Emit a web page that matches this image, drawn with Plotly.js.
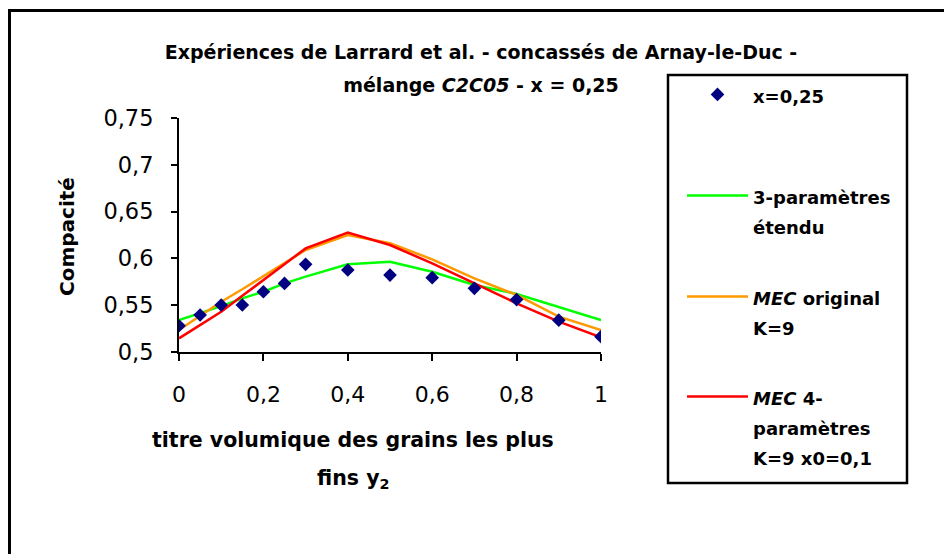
<!DOCTYPE html>
<html>
<head>
<meta charset="utf-8">
<script src="https://cdn.plot.ly/plotly-3.0.1.min.js"></script>
<style>html,body{margin:0;padding:0;background:#fff;}#chart{width:944px;height:554px;}</style>
</head>
<body>
<div id="chart"></div>
<script>
// Data
const xValues = [0, 0.05, 0.1, 0.15, 0.2, 0.25, 0.3, 0.4, 0.5, 0.6, 0.7, 0.8, 0.9, 1];
const experimental = [0.528, 0.5395, 0.5502, 0.5502, 0.5644, 0.5733, 0.5937, 0.5876, 0.5822, 0.5794, 0.568, 0.556, 0.534, 0.5164];
const threeParamExtended = [0.5342, 0.5413, 0.549, 0.5573, 0.5644, 0.5733, 0.5805, 0.5937, 0.5965, 0.5858, 0.5716, 0.562, 0.5477, 0.5342];
const mecOriginal = [0.5235, 0.5386, 0.5537, 0.567, 0.581, 0.595, 0.609, 0.625, 0.6161, 0.599, 0.5787, 0.561, 0.5377, 0.5235];
const mec4Param = [0.5146, 0.529, 0.543, 0.560, 0.577, 0.594, 0.6107, 0.6275, 0.6143, 0.5947, 0.5733, 0.552, 0.5324, 0.5157];
const yTickValues = [0.5, 0.55, 0.6, 0.65, 0.7, 0.75];
const yTickLabels = ['0,5', '0,55', '0,6', '0,65', '0,7', '0,75'];
const xTickValues = [0, 0.2, 0.4, 0.6, 0.8, 1];
const xTickLabels = ['0', '0,2', '0,4', '0,6', '0,8', '1'];
const seriesNames = [
  ['x=0,25'],
  ['3-paramètres', 'étendu'],
  ['<i>MEC</i> original', 'K=9'],
  ['<i>MEC</i> 4-', 'paramètres', 'K=9 x0=0,1']
];
const titleLines = ['Expériences de Larrard et al. - concassés de Arnay-le-Duc -', 'mélange <i>C2C05</i> - x = 0,25'];
const xTitleLines = ['titre volumique des grains les plus', 'fins y<sub>2</sub>'];
const yTitle = 'Compacité';

const FONT = 'DejaVu Sans, Verdana, sans-serif';
function lbl(lines, size) {
  return lines.map(l => '<span style="font-size:' + size + 'px">' + l + '</span>').join('<br>');
}

const L = 179, R = 601, T = 118, B = 352;
const pw = R - L, ph = B - T;
const px = v => (v - L) / pw;
const py = v => (B - v) / ph;

const traces = [
  { x: xValues, y: threeParamExtended, type: 'scatter', mode: 'lines', name: lbl(seriesNames[1], 18), legend: 'legend2',
    line: { color: '#00FF00', width: 2.5 } },
  { x: xValues, y: mecOriginal, type: 'scatter', mode: 'lines', name: lbl(seriesNames[2], 18), legend: 'legend3',
    line: { color: '#FF9900', width: 2.5 } },
  { x: xValues, y: mec4Param, type: 'scatter', mode: 'lines', name: lbl(seriesNames[3], 18), legend: 'legend4',
    line: { color: '#FF0000', width: 2.5 } },
  { x: xValues, y: experimental, type: 'scatter', mode: 'markers', name: lbl(seriesNames[0], 18), legend: 'legend',
    marker: { symbol: 'diamond', color: '#000080', size: 10.5 } }
];

const legendFirstLine = [94, 195, 296, 396];
function legendAt(yc) {
  return {
    x: px(682), y: py(yc - 21), xanchor: 'left', yanchor: 'top',
    borderwidth: 0, bgcolor: 'rgba(0,0,0,0)',
    font: { family: FONT, size: 23, weight: 'bold', color: '#000' },
    itemwidth: 61, valign: 'top'
  };
}

const layout = {
  width: 944, height: 554,
  margin: { l: L, r: 944 - R, t: T, b: 554 - B, pad: 0 },
  paper_bgcolor: '#fff', plot_bgcolor: '#fff',
  font: { family: FONT, color: '#000' },
  showlegend: true,
  xaxis: {
    range: [0, 1], tickvals: xTickValues, ticktext: xTickLabels,
    showgrid: false, zeroline: false, showline: true, linecolor: '#000', linewidth: 2,
    ticks: 'outside', ticklen: 7, tickwidth: 2, tickcolor: '#000',
    tickfont: { family: FONT, size: 22, color: '#000' }, ticklabelstandoff: 15, fixedrange: true
  },
  yaxis: {
    range: [0.5, 0.75], tickvals: yTickValues, ticktext: yTickLabels,
    showgrid: false, zeroline: false, showline: true, linecolor: '#000', linewidth: 2,
    ticks: 'outside', ticklen: 6, tickwidth: 2, tickcolor: '#000',
    tickfont: { family: FONT, size: 22.5, color: '#000' }, ticklabelstandoff: 13, fixedrange: true
  },
  title: {
    text: lbl(titleLines, 19),
    font: { family: FONT, size: 25, weight: 'bold', color: '#000' },
    xref: 'paper', yref: 'paper', x: px(481), xanchor: 'center', y: py(68), yanchor: 'middle'
  },
  legend: legendAt(legendFirstLine[0]),
  legend2: legendAt(legendFirstLine[1]),
  legend3: legendAt(legendFirstLine[2]),
  legend4: legendAt(legendFirstLine[3]),
  annotations: [
    { text: xTitleLines[0], xref: 'paper', yref: 'paper', x: px(353), y: py(440), xanchor: 'center', yanchor: 'middle',
      showarrow: false, font: { family: FONT, size: 20.5, weight: 'bold', color: '#000' } },
    { text: xTitleLines[1], xref: 'paper', yref: 'paper', x: px(353), y: py(479), xanchor: 'center', yanchor: 'middle',
      showarrow: false, font: { family: FONT, size: 20.5, weight: 'bold', color: '#000' } },
    { text: yTitle, xref: 'paper', yref: 'paper', x: px(67), y: py(236), xanchor: 'center', yanchor: 'middle', textangle: -90,
      showarrow: false, font: { family: FONT, size: 20, weight: 'bold', color: '#000' } }
  ],
  shapes: [
    { type: 'rect', xref: 'paper', yref: 'paper', x0: px(9.5), y0: py(600), x1: px(1000), y1: py(10.5),
      line: { color: '#000', width: 3 }, fillcolor: 'rgba(0,0,0,0)', layer: 'below' },
    { type: 'rect', xref: 'paper', yref: 'paper', x0: px(668), y0: py(483), x1: px(907), y1: py(75),
      line: { color: '#000', width: 2.5 }, fillcolor: 'rgba(0,0,0,0)', layer: 'below' }
  ]
};

Plotly.newPlot('chart', traces, layout, { displayModeBar: false, staticPlot: true });
</script>
</body>
</html>
